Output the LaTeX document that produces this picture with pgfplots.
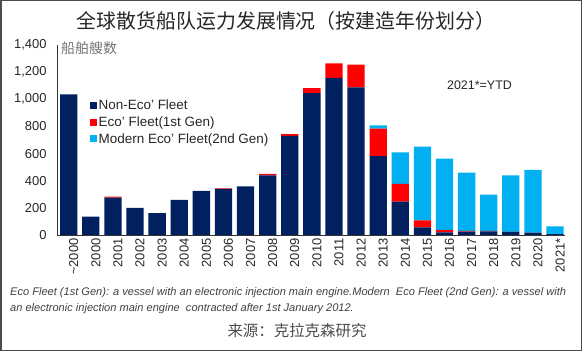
\documentclass[border=0pt]{standalone}
\usepackage{pgfplots}
\pgfplotsset{compat=1.18}
\usepackage{fontspec}
\setmainfont{Liberation Sans}
\newfontfamily\cjk{Noto Sans CJK SC}
\definecolor{navy}{HTML}{002060}
\definecolor{ecored}{HTML}{FF0000}
\definecolor{ecoblue}{HTML}{00B0F0}
\definecolor{txt}{HTML}{262626}
\begin{document}
\begin{tikzpicture}
\useasboundingbox (0bp,0bp) rectangle (582bp,351bp);
\draw[line width=1.5bp, black!70] (0.75bp,0.75bp) rectangle (581.25bp,350.25bp);
\begin{axis}[
  at={(57bp,116bp)}, anchor=south west,
  scale only axis, width=508bp, height=190bp,
  ybar stacked, bar width=17.3bp,
  xmin=-0.53, xmax=22.45, ymin=0, ymax=1400,
  xtick={0,...,22},
  xticklabels={\textasciitilde2000,2000,2001,2002,2003,2004,2005,2006,2007,2008,2009,2010,2011,2012,2013,2014,2015,2016,2017,2018,2019,2020,2021*},
  x tick label style={rotate=90, anchor=east, yshift=-5bp, font=\fontsize{13}{15}\selectfont, text=txt},
  ytick={0,200,...,1400},
  yticklabel style={/pgf/number format/1000 sep={,}, /pgf/number format/assume math mode=true, xshift=-7bp, font=\fontsize{13}{15}\selectfont, text=txt},
  axis x line*=bottom, axis y line*=left,
  major tick length=0pt,
  axis line style={draw=black!80, line width=0.8bp},
  legend style={at={(0.065,0.72)}, anchor=north west, draw=none, fill=none,
    font=\fontsize{13.5}{16}\selectfont, text=txt, inner sep=0pt, row sep=2.5bp,
    nodes={inner sep=1.5bp}},
  legend cell align=left,
  legend image code/.code={\fill[#1,draw=none] (0bp,-3.5bp) rectangle (7bp,3.5bp);},
]
\addplot[fill=navy, draw=none] coordinates {
(0,1037) (1,135) (2,275) (3,199) (4,162) (5,258) (6,326) (7,339) (8,359) (9,440) (10,730) (11,1046)
(12,1157) (13,1088) (14,582) (15,245) (16,56) (17,19) (18,24) (19,26) (20,24) (21,17) (22,7)};
\addplot[fill=ecored, draw=none] coordinates {
(0,0) (1,0) (2,7) (3,0) (4,0) (5,0) (6,0) (7,5) (8,0) (9,10) (10,14) (11,37)
(12,108) (13,167) (14,201) (15,131) (16,52) (17,17) (18,6) (19,5) (20,0) (21,0) (22,0)};
\addplot[fill=ecoblue, draw=none] coordinates {
(0,0) (1,0) (2,0) (3,0) (4,0) (5,0) (6,0) (7,0) (8,0) (9,0) (10,0) (11,0)
(12,0) (13,0) (14,25) (15,233) (16,543) (17,526) (18,429) (19,266) (20,416) (21,462) (22,56)};
\legend{Non-Eco' Fleet, Eco' Fleet(1st Gen), Modern Eco' Fleet(2nd Gen)}
\end{axis}
\node[text=txt, font=\cjk\fontsize{20}{22}\selectfont] at (286bp,330bp) {全球散货船队运力发展情况（按建造年份划分）};
\node[anchor=west, inner sep=0pt, text=black!55, font=\cjk\fontsize{14}{16}\selectfont] at (61bp,302.5bp) {船舶艘数};
\node[text=txt, font=\fontsize{12.5}{14}\selectfont] at (479.5bp,266bp) {2021*=YTD};
\node[anchor=west, inner sep=0pt, text=black!75, font=\itshape\fontsize{11.1}{13}\selectfont] at (10bp,58bp) {Eco Fleet (1st Gen): a vessel with an electronic injection main engine.Modern\ \ Eco Fleet (2nd Gen): a vessel with};
\node[anchor=west, inner sep=0pt, text=black!75, font=\itshape\fontsize{11.1}{13}\selectfont] at (10bp,42bp) {an electronic injection main engine\ \ contracted after 1st January 2012.};
\node[text=black!70, font=\cjk\fontsize{15.5}{17}\selectfont] at (297bp,20bp) {来源：克拉克森研究};
\end{tikzpicture}
\end{document}
